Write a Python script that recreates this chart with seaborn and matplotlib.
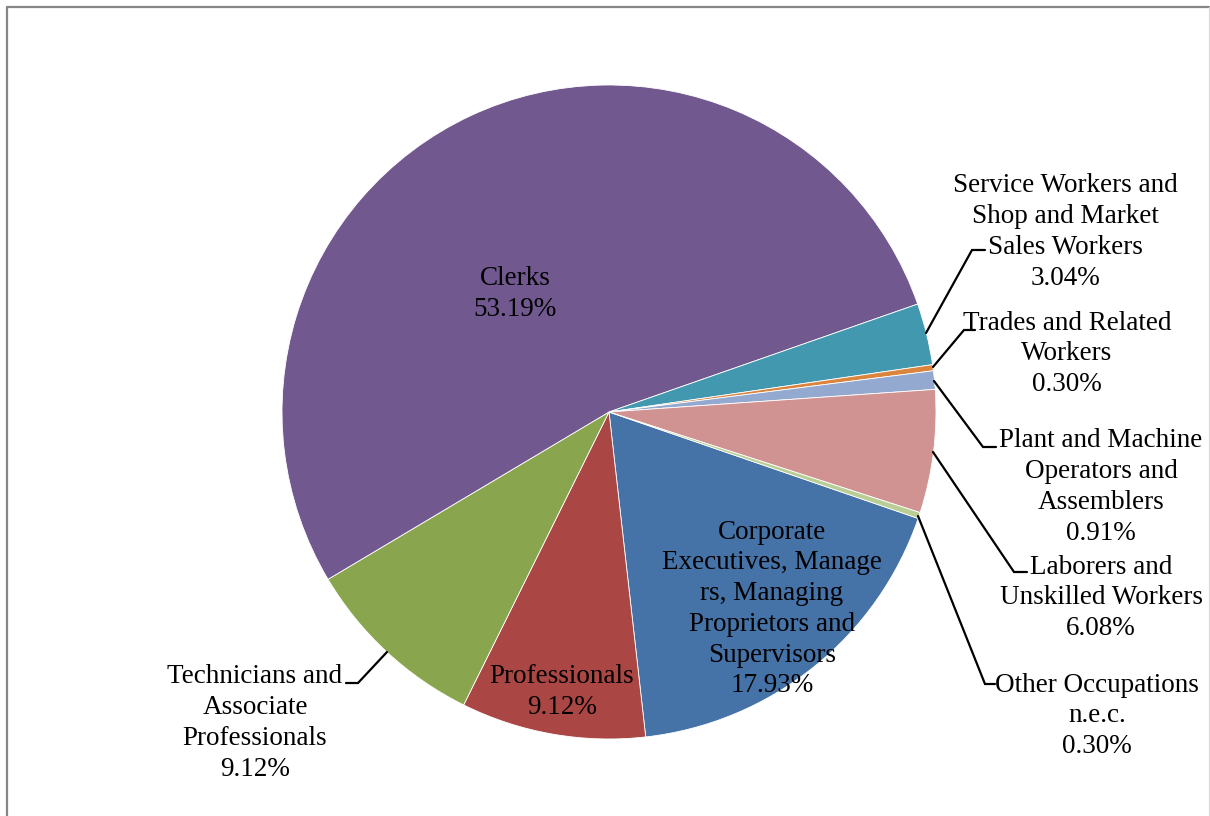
import matplotlib
matplotlib.use("Agg")
import matplotlib.pyplot as plt
import seaborn as sns
from matplotlib.lines import Line2D

# dati (ordine della classificazione, in senso orario)
categorie = ["Corporate Executives, Managers, Managing Proprietors and Supervisors",
             "Professionals",
             "Technicians and Associate Professionals",
             "Clerks",
             "Service Workers and Shop and Market Sales Workers",
             "Trades and Related Workers",
             "Plant and Machine Operators and Assemblers",
             "Laborers and Unskilled Workers",
             "Other Occupations n.e.c."]
quote = [17.93, 9.12, 9.12, 53.19, 3.04, 0.30, 0.91, 6.08, 0.30]
etichette = ["Corporate\nExecutives, Manage\nrs, Managing\nProprietors and\nSupervisors",
             "Professionals",
             "Technicians and\nAssociate\nProfessionals",
             "Clerks",
             "Service Workers and\nShop and Market\nSales Workers",
             "Trades and Related\nWorkers",
             "Plant and Machine\nOperators and\nAssemblers",
             "Laborers and\nUnskilled Workers",
             "Other Occupations\nn.e.c."]
colori = ["#4572A7", "#AA4643", "#89A54E", "#71588F", "#4198AF",
          "#DB843D", "#93A9CF", "#D19392", "#B9CD96"]

sns.set_theme(style="white")
plt.rcParams['font.family'] = ['Liberation Serif', 'DejaVu Serif']

W, H = 1210, 816
fig = plt.figure(figsize=(12.1, 8.16), dpi=100)
ax = fig.add_axes([0, 0, 1, 1])

# centro e raggio in pixel (y verso l'alto)
cx, cy, r = 609, H - 412, 327
ax.pie(quote, colors=colori, startangle=-19, counterclock=False,
       center=(cx, cy), radius=r,
       wedgeprops=dict(edgecolor="white", linewidth=0.6))
ax.set_xlim(0, W)
ax.set_ylim(0, H)
ax.set_aspect("equal")
ax.axis("off")

# posizioni etichette (pixel dall'alto)
pos_etichette = [(772, 609), (562, 692), (255, 723), (515, 294), (1065, 232),
                 (1067, 354), (1101, 487), (1101, 598), (1097, 716)]
for i in range(len(quote)):
    testo = f"{etichette[i]}\n{quote[i]:.2f}%"
    x, y = pos_etichette[i]
    ax.text(x, H - y, testo, ha="center", va="center", fontsize=19.5,
            color="black", linespacing=1.3)

# linee guida
linee_guida = [
    [(926, 333), (972, 250), (985, 250)],
    [(933, 367), (964, 330), (975, 330)],
    [(934, 381), (983, 447), (996, 447)],
    [(933, 452), (1014, 572), (1027, 572)],
    [(918, 516), (985, 684), (995, 684)],
    [(387, 652), (358, 683), (346, 683)],
]
for punti in linee_guida:
    xs = [p[0] for p in punti]
    ys = [H - p[1] for p in punti]
    ax.plot(xs, ys, color="black", linewidth=1.6, solid_joinstyle="miter")

# bordo del grafico
fig.add_artist(Line2D([7 / W, 7 / W], [0, 1 - 7 / H], color="#878787", linewidth=1.6))
fig.add_artist(Line2D([7 / W, 1209 / W], [1 - 7 / H, 1 - 7 / H], color="#878787", linewidth=1.6))
fig.add_artist(Line2D([1209 / W, 1209 / W], [0, 1 - 7 / H], color="#d9d9d9", linewidth=0.8))

fig.savefig("out.png", dpi=100, facecolor="white")
